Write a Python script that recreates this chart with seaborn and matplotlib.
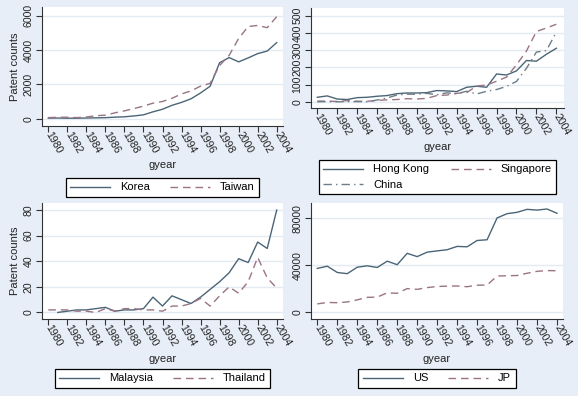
import numpy as np
import pandas as pd
import seaborn as sns
import matplotlib
matplotlib.use("Agg")
import matplotlib.pyplot as plt

# =========================
# description: patent counts by country, 1980-2004
# =========================

years = list(range(1980, 2005))

korea = [33, 40, 30, 30, 40, 50, 60, 90, 110, 160, 225, 400, 550, 780, 950,
         1160, 1500, 1890, 3260, 3560, 3310, 3540, 3790, 3940, 4430]
taiwan = [65, 80, 88, 65, 97, 174, 205, 341, 457, 591, 732, 906, 1001, 1189, 1443,
          1620, 1897, 2057, 3100, 3690, 4670, 5370, 5430, 5300, 5940]

hong_kong = [27, 35, 17, 14, 25, 27, 33, 37, 48, 52, 52, 54, 66, 64, 60,
             85, 91, 85, 162, 156, 180, 240, 236, 276, 311]
singapore = [5, 5, 3, 8, 4, 4, 9, 12, 14, 19, 17, 21, 37, 40, 50,
             54, 92, 98, 120, 144, 215, 295, 408, 428, 450]
china = [1, 2, 1, 2, 2, 1, 11, 23, 40, 45, 45, 50, 41, 53, 48,
         62, 46, 62, 72, 90, 119, 195, 289, 297, 404]

malaysia = [np.nan, 0, 1, 2, 2, 3, 4, 1, 2, 2, 3, 12, 5, 13, 10,
            7, 12, 18, 24, 31, 42, 39, 55, 50, 80]
thailand = [2, 2, 2, 1, 1, 0, 3, 1, 3, 3, 2, 2, 1, 5, 5,
            7, 11, 5, 13, 20, 15, 24, 43, 27, 19]

us = [37356, 39223, 33896, 32871, 38364, 39556, 38126, 43518, 40497, 50184,
      47391, 51177, 52253, 53231, 56066, 55739, 61104, 61707, 80289, 83905,
      85068, 87600, 86971, 87893, 84271]
jp = [7124, 8389, 8149, 8793, 10574, 12746, 12936, 16558, 16158, 20169,
      19525, 21027, 21925, 22293, 22384, 21764, 23053, 23179, 30840, 31104,
      31295, 33223, 34858, 35515, 35348]

year_ticks = list(range(1980, 2005, 2))

# =========================
# description: style
# =========================

W, H = 578, 396
BG = "#E7EEF7"
GRID = "#E3EAF2"
SOLID = "#4B6577"
DASH = "#9A7484"
DASHDOT = "#6E7C87"

plt.rcParams["font.family"] = ["Liberation Sans", "DejaVu Sans"]

fig = plt.figure(figsize=(W / 100, H / 100), dpi=100)
fig.patch.set_facecolor(BG)


def px_axes(left, top, right, bottom):
    return fig.add_axes([left / W, 1 - bottom / H, (right - left) / W, (bottom - top) / H])


def draw_panel(ax, lines, xlim, ylim, yticks, ylabel, label_y, legend_top, box,
               order=None, colspace=1.8):
    for name, vals, col, style in lines:
        df = pd.DataFrame({"gyear": years, "count": vals}).dropna()
        kw = {}
        if style == "dash":
            kw["dashes"] = (5.5, 3.5)
        elif style == "dashdot":
            kw["dashes"] = (6, 3, 1, 3)
        sns.lineplot(data=df, x="gyear", y="count", ax=ax, color=col,
                     linewidth=1.0, label=name, **kw)

    ax.set_facecolor("white")
    ax.set_xlim(*xlim)
    ax.set_ylim(*ylim)
    ax.set_xticks(year_ticks)
    ax.set_xticklabels([str(y) for y in year_ticks], rotation=-60,
                       ha="left", va="center", rotation_mode="anchor", fontsize=7.6)
    ax.set_yticks(yticks)
    ax.set_yticklabels([str(t) for t in yticks], rotation=90, va="center", fontsize=7.6)
    ax.tick_params(length=4, width=0.8, color="#333333", labelcolor="#222222", pad=2)
    ax.tick_params(axis="x", pad=1)
    ax.grid(axis="y", color=GRID, linewidth=1.0)
    ax.set_axisbelow(True)
    for s in ["top", "right"]:
        ax.spines[s].set_visible(False)
    for s in ["left", "bottom"]:
        ax.spines[s].set_color("#333333")
        ax.spines[s].set_linewidth(0.8)

    ax.set_ylabel(ylabel, fontsize=8, color="#222222", labelpad=3)
    ax.set_xlabel("gyear", fontsize=8, color="#222222")
    l, t, r, b = box
    ax.xaxis.set_label_coords(0.5, (b - label_y) / (b - t))
    ax.xaxis.label.set_verticalalignment("center")

    handles, labels = ax.get_legend_handles_labels()
    if order is not None:
        handles = [handles[i] for i in order]
        labels = [labels[i] for i in order]
    ax.legend(handles, labels, loc="upper center",
              bbox_to_anchor=((l + r) / 2 / W, 1 - legend_top / H),
              bbox_transform=fig.transFigure, ncol=2, fontsize=8,
              frameon=True, fancybox=False, edgecolor="black", facecolor="white",
              framealpha=1, handlelength=3.6, handletextpad=0.9, columnspacing=colspace,
              borderaxespad=0)
    ax.get_legend().get_frame().set_linewidth(0.9)


# =========================
# description: four panels
# =========================

box_tl = (42, 7, 283, 126)
ax1 = px_axes(*box_tl)
draw_panel(ax1, [("Korea", korea, SOLID, "solid"), ("Taiwan", taiwan, DASH, "dash")],
           (1979.34, 2004.66), (-425, 6505), [0, 2000, 4000, 6000],
           "Patent counts", 165, 178, box_tl)

box_tr = (311, 8, 564, 108)
ax2 = px_axes(*box_tr)
draw_panel(ax2, [("Hong Kong", hong_kong, SOLID, "solid"),
                 ("Singapore", singapore, DASH, "dash"),
                 ("China", china, DASHDOT, "dashdot")],
           (1979.37, 2004.77), (-35, 544), [0, 100, 200, 300, 400, 500],
           "", 147, 160, box_tr, order=[0, 2, 1], colspace=1.95)

box_bl = (42, 203, 283, 319)
ax3 = px_axes(*box_bl)
draw_panel(ax3, [("Malaysia", malaysia, SOLID, "solid"), ("Thailand", thailand, DASH, "dash")],
           (1979.34, 2004.66), (-5.1, 85.5), [0, 20, 40, 60, 80],
           "Patent counts", 359, 369, box_bl)

box_br = (311, 203, 563, 319)
ax4 = px_axes(*box_br)
draw_panel(ax4, [("US", us, SOLID, "solid"), ("JP", jp, DASH, "dash")],
           (1979.37, 2004.6), (-5700, 93000), [0, 40000, 80000],
           "", 359, 369, box_br)

fig.savefig("out.png", dpi=100, facecolor=BG)
